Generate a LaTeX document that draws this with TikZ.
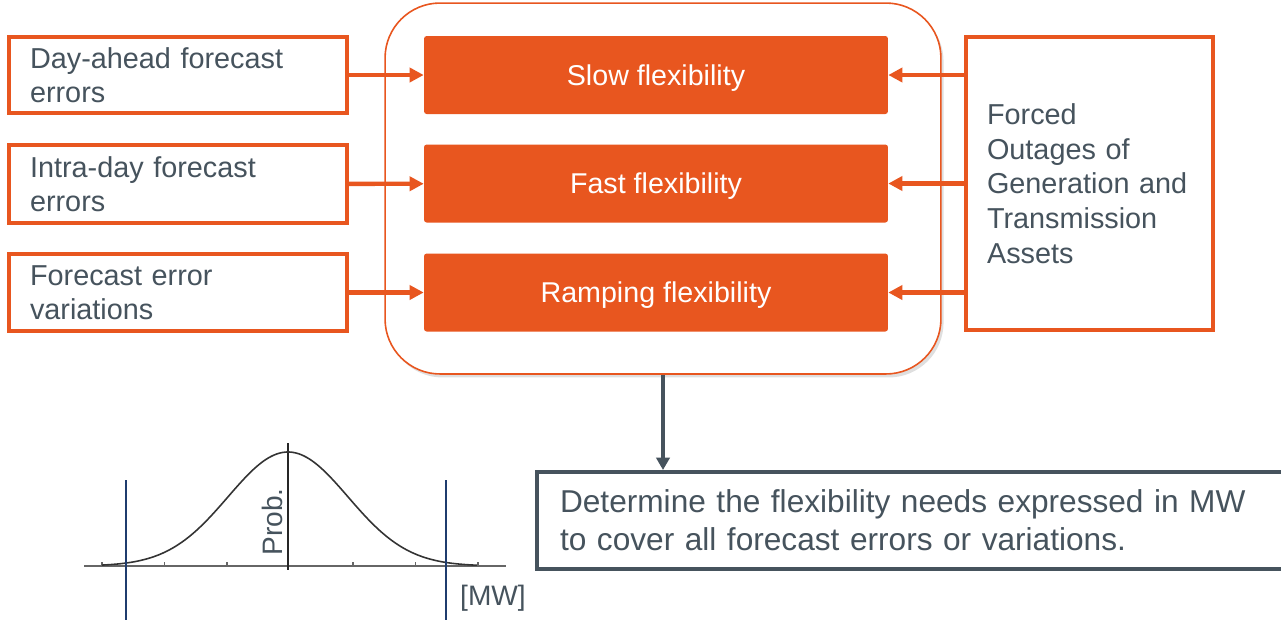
\documentclass[tikz,border=0pt]{standalone}
\usepackage{fontspec}
\setmainfont{Liberation Sans}
\usetikzlibrary{arrows.meta,positioning,shadows}

\definecolor{flexorange}{HTML}{E8561F}
\definecolor{textgrey}{HTML}{46535D}
\definecolor{limitblue}{HTML}{1F3C6E}

\tikzset{
  inbox/.style={draw=flexorange, line width=2.2pt, fill=white, text=textgrey, align=left,
    inner xsep=0.42cm, font=\fontsize{16.4}{19.4}\selectfont},
  flexbox/.style={fill=flexorange, rounded corners=1.5pt, text=white, minimum width=9.28cm,
    minimum height=1.56cm, text height=15pt, text depth=3.5pt, font=\fontsize{16.3}{19}\selectfont},
  feed/.style={draw=flexorange, line width=2.5pt, -{Triangle[length=8pt,width=8pt]}},
}

\begin{document}
\begin{tikzpicture}[x=0.02cm,y=-0.02cm]
\useasboundingbox (0,0) rectangle (1281,620);

%% Flexibility frame
\node[draw=flexorange, fill=white, line width=0.9pt, rounded corners=1.1cm, minimum width=11.12cm,
  minimum height=7.42cm, drop shadow={opacity=.25, shadow xshift=1.5pt, shadow yshift=-2pt}]
  (flex) at (663,188.5) {};

% flexibility types
\node[flexbox] (slow) at (656,75) {Slow flexibility};
\node[flexbox] (fast) at (656,183.5) {Fast flexibility};
\node[flexbox] (ramp) at (656,292.5) {Ramping flexibility};

% error sources
\node[inbox, minimum width=6.76cm, minimum height=1.52cm, text width=5.92cm] (dayahead) at (178,75)
  {Day-ahead forecast\\errors};
\node[inbox, minimum width=6.76cm, minimum height=1.56cm, text width=5.92cm] (intraday) at (178,184)
  {Intra-day forecast\\errors};
\node[inbox, minimum width=6.76cm, minimum height=1.54cm, text width=5.92cm] (variation) at (178,292.5)
  {Forecast error\\variations};

% outages
\node[inbox, minimum width=4.94cm, minimum height=5.86cm, text width=4.1cm,
  font=\fontsize{16.4}{19.8}\selectfont] (outage) at (1089.5,183.5)
  {Forced\\Outages of\\Generation and\\Transmission\\Assets};

% arrows in
\draw[feed] (dayahead) -- (slow);
\draw[feed] (intraday) -- (fast);
\draw[feed] (variation) -- (ramp);
\draw[feed] (slow.east -| outage.west) -- (slow.east);
\draw[feed] (fast.east -| outage.west) -- (fast.east);
\draw[feed] (ramp.east -| outage.west) -- (ramp.east);

%% Result
\node[draw=textgrey, line width=2.3pt, fill=white, text=textgrey, align=left, inner xsep=0.46cm,
  text width=14.34cm, minimum height=1.94cm, font=\fontsize{18}{21.6}\selectfont] (need) at (918.5,520.5)
  {Determine the flexibility needs expressed in MW\\to cover all forecast errors or variations.};
\draw[textgrey, line width=2.5pt, -{Triangle[length=7pt,width=7.5pt]}] (flex.south) -- (flex.south |- need.north);

%% Distribution sketch
\draw[gray!80!black, line width=0.8pt] (84,566) -- (506,566);
\foreach \t in {102,164.5,227,353,415.5,478}
  \draw[gray!80!black, line width=0.6pt] (\t,566) -- (\t,562);
\draw[black!85, line width=1pt] (288,443) -- (288,570);
\draw[black!80, line width=0.9pt, smooth] plot[domain=-3.1:3.15, samples=80]
  ({288+60*\x}, {566-114*exp(-0.5*\x*\x)});
\draw[limitblue, line width=0.9pt] (126,480) -- (126,620);
\draw[limitblue, line width=0.9pt] (446,480) -- (446,620);
\node[text=textgrey, rotate=90, font=\fontsize{16}{19}\selectfont] (prob) at (272,522) {Prob.};
\node[text=textgrey, font=\fontsize{16}{19}\selectfont] (mw) at (493,598) {[MW]};

\end{tikzpicture}
\end{document}
